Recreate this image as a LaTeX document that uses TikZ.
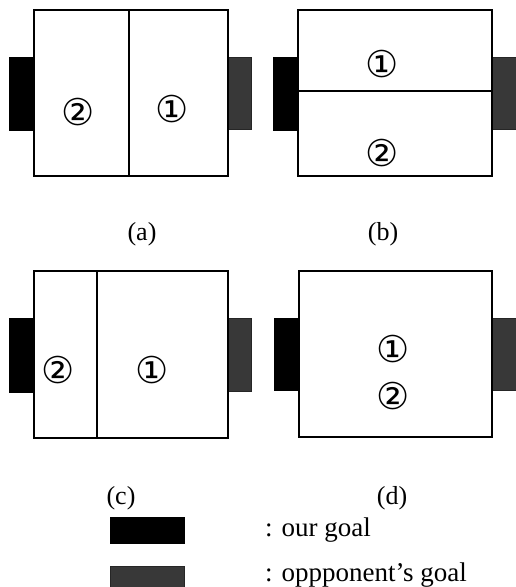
\documentclass[tikz,border=0pt]{standalone}
\usepackage{fontspec}
\setmainfont{Liberation Serif}
\newfontfamily\circfont{DejaVu Sans}
\begin{document}
\begin{tikzpicture}[x=1pt,y=-1pt,
  field/.style={draw=black,line width=1.6pt,fill=white},
  divider/.style={draw=black,line width=1.6pt},
  ourgoal/.style={fill=black,draw=black,line width=0.6pt},
  oppgoal/.style={fill=black!78,draw=black!85,line width=0.6pt},
  circnum/.style={font=\circfont\fontsize{37}{37}\selectfont,inner sep=0pt},
  caption/.style={font=\fontsize{26}{26}\selectfont,inner sep=0pt},
  legtext/.style={font=\fontsize{27}{27}\selectfont,inner sep=0pt,anchor=west}]
\useasboundingbox (0,0) rectangle (516,587);
% (a)
\fill[ourgoal] (9,57) rectangle (34,130);
\fill[oppgoal] (228,57) rectangle (251,129);
\draw[field] (34,10) rectangle (228,176);
\draw[divider] (129,10) -- (129,176);
\node[circnum] (a2) at (78,112) {②};
\node[circnum] (a1) at (172,109) {①};
\node[caption] (la) at (142,234) {(a)};
% (b)
\fill[ourgoal] (273,57) rectangle (298,130);
\fill[oppgoal] (492,57) rectangle (516,129);
\draw[field] (298,10) rectangle (492,176);
\draw[divider] (298,91) -- (492,91);
\node[circnum] (b1) at (382,64) {①};
\node[circnum] (b2) at (382,153) {②};
\node[caption] (lb) at (383,234) {(b)};
% (c)
\fill[ourgoal] (9,318) rectangle (34,392);
\fill[oppgoal] (228,318) rectangle (251,391);
\draw[field] (34,271) rectangle (228,438);
\draw[divider] (97,271) -- (97,438);
\node[circnum] (c2) at (58,370) {②};
\node[circnum] (c1) at (152,370) {①};
\node[caption] (lc) at (121,498) {(c)};
% (d)
\fill[ourgoal] (274,318) rectangle (299,390);
\fill[oppgoal] (492,318) rectangle (516,390);
\draw[field] (299,271) rectangle (492,437);
\node[circnum] (d1) at (393,349) {①};
\node[circnum] (d2) at (393,396) {②};
\node[caption] (ld) at (392,498) {(d)};
% legend
\fill[ourgoal] (110,517) rectangle (184,543);
\fill[oppgoal] (110,566) rectangle (184,592);
\node[legtext] (t1) at (265,530) {: our goal};
\node[legtext] (t2) at (265,575) {: oppponent’s goal};
\end{tikzpicture}
\end{document}
